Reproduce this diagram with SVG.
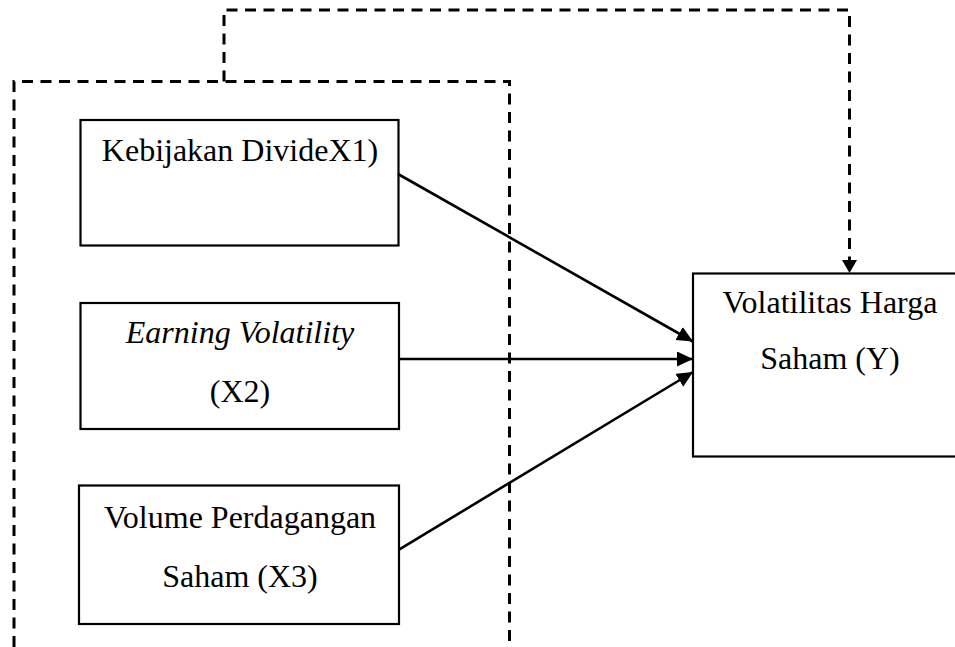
<svg xmlns="http://www.w3.org/2000/svg" width="955" height="647" viewBox="0 0 955 647">
<style>
.box{fill:#fff;stroke:#000;stroke-width:2.2}
.t{font-family:"Liberation Serif","Times New Roman",serif;font-size:32px;fill:#000;text-anchor:middle}
.i{font-style:italic}
.dash{fill:none;stroke:#000;stroke-width:3;stroke-dasharray:11 7.5}
.arr{fill:none;stroke:#000;stroke-width:2.6}
</style>
<defs>
<marker id="ah" markerUnits="userSpaceOnUse" markerWidth="18" markerHeight="16" refX="16" refY="7.5" orient="auto">
<path d="M0,0 L16,7.5 L0,15 z" fill="#000"/>
</marker>
<marker id="ahd" markerUnits="userSpaceOnUse" markerWidth="15" markerHeight="16" refX="13" refY="7.5" orient="auto">
<path d="M0,0 L13,7.5 L0,15 z" fill="#000"/>
</marker>
</defs>
<g id="frame">
<path class="dash" d="M14,647 V81.5 H509.5 V647"/>
</g>
<g id="x1">
<rect class="box" x="80.5" y="120" width="318" height="125.5"/>
<text class="t" x="240" y="161">Kebijakan DivideX1)</text>
</g>
<g id="x2">
<rect class="box" x="80.5" y="303" width="318.5" height="126"/>
<text class="t i" x="240" y="343">Earning Volatility</text>
<text class="t" x="240" y="402">(X2)</text>
</g>
<g id="x3">
<rect class="box" x="79" y="485.5" width="320" height="138.5"/>
<text class="t" x="240" y="528">Volume Perdagangan</text>
<text class="t" x="240" y="587">Saham (X3)</text>
</g>
<g id="y">
<rect class="box" x="693" y="273.5" width="274" height="183"/>
<text class="t" x="830" y="313">Volatilitas Harga</text>
<text class="t" x="830" y="369">Saham (Y)</text>
</g>
<g id="connectors">
<line class="arr" x1="398" y1="174" x2="693" y2="341.5" marker-end="url(#ah)"/>
<line class="arr" x1="399" y1="359" x2="693" y2="359" marker-end="url(#ah)"/>
<line class="arr" x1="399" y1="549.6" x2="693" y2="372" marker-end="url(#ah)"/>
<path class="dash" d="M224,81.5 V10 H849.5 V273" marker-end="url(#ahd)"/>
</g>
</svg>
